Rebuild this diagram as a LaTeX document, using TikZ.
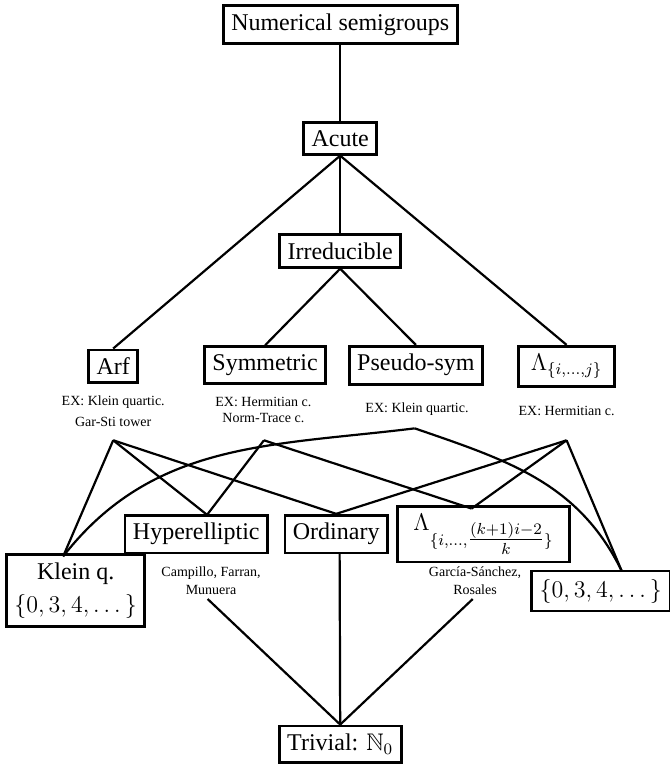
\documentclass[tikz,border=0pt]{standalone}
\usepackage{amsmath}
\usepackage{amssymb}
\usepackage{fontspec}
\setmainfont{Liberation Serif}
\usepackage{tikz}

\tikzset{
box/.style={draw, line width=1.4pt, inner sep=4pt, font=\large},
ex/.style={font=\scriptsize, align=center, inner sep=0pt},
link/.style={line width=1.1pt}
}

\begin{document}
\begin{tikzpicture}

\useasboundingbox (0,0) rectangle (11.77,13.43);

\node[box] (num) at (5.98,13) {Numerical semigroups};
\node[box] (acute) at (5.98,11) {Acute};
\node[box] (irred) at (5.98,9.02) {Irreducible};

\node[box] (arf) at (1.99,6.99) {Arf};
\node[box] (sym) at (4.66,7.01) {Symmetric};
\node[box] (pseudo) at (7.31,7.01) {Pseudo-sym};
\node[box, inner xsep=6pt] (lam) at (9.96,6.99) {$\Lambda_{\{i,\dots,j\}}$};

\node[ex] (arfex) at (1.99,6.21) {EX: Klein quartic.\\[2.5pt] Gar-Sti tower};
\node[ex] (symex) at (4.63,6.22) {EX: Hermitian c.\\ Norm-Trace c.};
\node[ex] (pseudoex) at (7.33,6.23) {EX: Klein quartic.};
\node[ex] (lamex) at (9.96,6.21) {EX: Hermitian c.};

\coordinate (A) at (1.99,5.69);
\coordinate (B) at (4.64,5.69);
\coordinate (C) at (7.29,5.9);
\coordinate (D) at (9.96,5.69);

\node[box] (hyp) at (3.45,4.04) {Hyperelliptic};
\node[box] (ord) at (5.91,4.04) {Ordinary};
\node[box, inner xsep=8pt] (lamk) at (8.5,4.04) {$\Lambda_{\{i,\dots,\tfrac{(k+1)i-2}{k}\}}$};
\node[box, align=center] (klein) at (1.33,3.05) {Klein q.\\[2.5pt] $\{0,3,4,\dots\}$};
\node[box] (zero) at (10.56,3.04) {$\{0,3,4,\dots\}$};

\node[ex] (hypex) at (3.71,3.22) {Campillo, Farran,\\[1pt] Munuera};
\node[ex] (lamkex) at (8.35,3.22) {García-Sánchez,\\[1pt] Rosales};

\node[box] (triv) at (5.98,0.35) {Trivial: $\mathbb{N}_0$};

\coordinate (hyptop) at (3.64,4.38);
\coordinate (lamktop) at (8.29,4.49);
\coordinate (kleintop) at (1.11,3.65);
\coordinate (zerotop) at (10.93,3.39);
\coordinate (hypbot) at (3.65,2.9);
\coordinate (ordbot) at (5.97,3.71);
\coordinate (lamkbot) at (8.31,2.9);

\draw[link] (num.south) -- (acute.north);
\draw[link] (acute.south) -- (arf.north);
\draw[link] (acute.south) -- (irred.north);
\draw[link] (acute.south) -- (lam.north);
\draw[link] (irred.south) -- (sym.north);
\draw[link] (irred.south) -- (pseudo.north);

\draw[link] (A) -- (kleintop);
\draw[link] (A) -- (hyptop);
\draw[link] (A) -- (ord.north);
\draw[link] (B) -- (hyptop);
\draw[link] (B) -- (lamktop);
\draw[link] (C) to[out=187,in=52] (kleintop);
\draw[link] (C) to[out=-19,in=116] (zerotop);
\draw[link] (D) -- (ord.north);
\draw[link] (D) -- (lamktop);
\draw[link] (D) -- (zerotop);

\draw[link] (hypbot) -- (triv.north);
\draw[link] (ordbot) -- (triv.north);
\draw[link] (lamkbot) -- (triv.north);

\end{tikzpicture}
\end{document}
